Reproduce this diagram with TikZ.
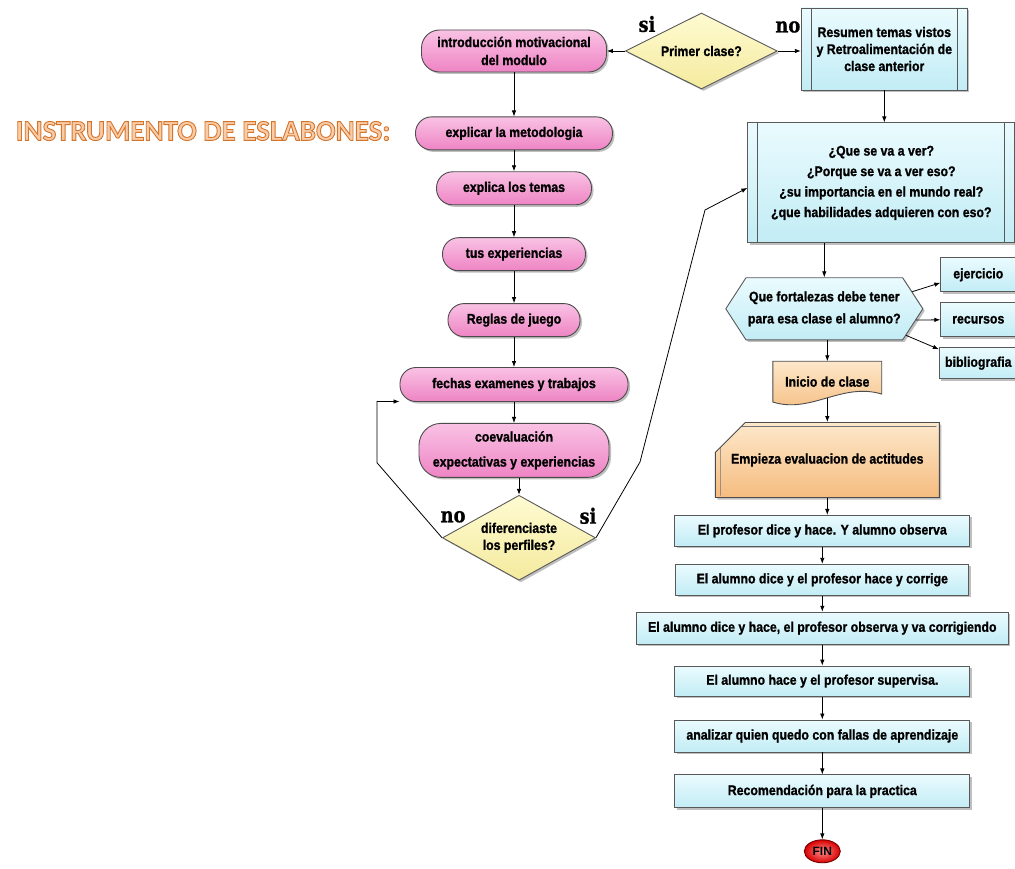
\documentclass[tikz,border=0pt]{standalone}
\usepackage{fontspec}
\usepackage{tikz}
\usetikzlibrary{positioning, shapes.geometric, shapes.symbols, shapes.misc, arrows.meta, shadows, backgrounds}

\newfontfamily\boxfont[FakeStretch=0.88, FakeBold=1.1]{Liberation Sans}
\newfontfamily\finfont{Liberation Sans}
\newfontfamily\slabfont[FakeStretch=0.85, FakeBold=0.8]{DejaVu Serif}
\newfontfamily\titlefont{Carlito}

\definecolor{pinkhi}{HTML}{F9C2E4}
\definecolor{pinklo}{HTML}{EE84C4}
\definecolor{cyanhi}{HTML}{EAFBFE}
\definecolor{cyanlo}{HTML}{C2ECF5}
\definecolor{yelhi}{HTML}{FFFBD2}
\definecolor{yello}{HTML}{F4EA9E}
\definecolor{orahi}{HTML}{FDE8CA}
\definecolor{oralo}{HTML}{F5BC80}
\definecolor{ttlfill}{HTML}{F9CBA6}

% outlined title text (fill and stroke)
\newcommand{\outlined}[1]{{\color{ttlfill}%
    \special{pdf:literal direct 2 Tr 0.9 w 0.83 0.46 0.18 RG}#1%
    \special{pdf:literal direct 0 Tr}}}

\begin{document}
\begin{tikzpicture}[x=1pt, y=1pt,
        >={Latex[length=6pt,width=4.5pt]},
        every node/.style = {align=center,
                             font=\boxfont\bfseries\fontsize{14}{18}\selectfont},
        softshadow/.style = {drop shadow={shadow xshift=2pt, shadow yshift=-2pt,
                             opacity=0.25, fill=black}},
        pinkbox/.style = {shape=rectangle, rounded corners=16pt, draw=black!70,
                          line width=0.9pt, top color=pinkhi, bottom color=pinklo,
                          minimum height=33pt, softshadow},
        cyanbox/.style = {shape=rectangle, draw=black!65, line width=0.9pt,
                          top color=cyanhi, bottom color=cyanlo,
                          minimum height=31pt, inner xsep=2pt, softshadow},
        subproc/.style = {cyanbox, path picture={
            \draw[black!65, line width=0.9pt]
                ([xshift=10pt]path picture bounding box.north west)
                -- ([xshift=10pt]path picture bounding box.south west)
                ([xshift=-10pt]path picture bounding box.north east)
                -- ([xshift=-10pt]path picture bounding box.south east);}},
        yelldiam/.style = {shape=diamond, draw=black!65, line width=0.9pt,
                           top color=yelhi, bottom color=yello, inner sep=0pt,
                           shape aspect=2, softshadow},
        hexbox/.style = {shape=signal, signal to=west and east,
                         signal pointer angle=114, draw=black!65, line width=0.9pt,
                         top color=cyanhi, bottom color=cyanlo, inner sep=0pt,
                         softshadow},
        chambox/.style = {shape=chamfered rectangle,
                          chamfered rectangle corners=north west,
                          chamfered rectangle xsep=23pt, chamfered rectangle ysep=20pt,
                          draw=black!70, line width=0.9pt,
                          top color=orahi, bottom color=oralo, softshadow,
                          path picture={
            \draw[black!55, line width=0.6pt]
                ([xshift=5pt,yshift=2pt]path picture bounding box.south west)
                -- ([xshift=5pt,yshift=-22pt]path picture bounding box.north west)
                -- ([xshift=25pt,yshift=-4pt]path picture bounding box.north west)
                -- ([xshift=-3pt,yshift=-4pt]path picture bounding box.north east);}},
        finbox/.style = {shape=ellipse, draw=red!45!black, line width=0.9pt,
                         inner color=red!45!white, outer color=red!85!black,
                         inner sep=0pt, minimum width=36pt, minimum height=23pt,
                         font=\finfont\bfseries\fontsize{12}{12}\selectfont},
        sino/.style = {font=\slabfont\bfseries\fontsize{21}{21}\selectfont},
        every path/.append style = {line width=0.8pt}]

    \useasboundingbox (0,0) rectangle (1015,-869);
    \begin{scope}[on background layer]
        \fill[white] (0,0) rectangle (1015,-869);
    \end{scope}

    \node[font=\titlefont\bfseries\fontsize{29}{30}\selectfont]
        (titulo) at (203,-131) {\outlined{INSTRUMENTO DE ESLABONES:}};

    % left column
    \node[pinkbox, minimum width=185pt, minimum height=42pt, rounded corners=18pt]
        (intro) at (514,-51) {introducción motivacional\\del modulo};
    \node[pinkbox, below=44pt of intro, minimum width=197pt] (metod) {explicar la metodologia};
    \node[pinkbox, below=21pt of metod, minimum width=155pt] (temas) {explica los temas};
    \node[pinkbox, below=32pt of temas, minimum width=143pt] (exper) {tus experiencias};
    \node[pinkbox, below=32pt of exper, minimum width=132pt] (reglas) {Reglas de juego};
    \node[pinkbox, below=30pt of reglas, minimum width=228pt, minimum height=34pt]
        (fechas) {fechas examenes y trabajos};
    \node[pinkbox, below=21pt of fechas, minimum width=190pt, minimum height=54pt,
          rounded corners=22pt, font=\boxfont\bfseries\fontsize{14}{25}\selectfont]
        (coeval) {coevaluación\\expectativas y experiencias};
    \node[yelldiam, below=17pt of coeval, xshift=5pt, minimum width=153pt,
          minimum height=85pt, font=\boxfont\bfseries\fontsize{14}{17}\selectfont]
        (perfil) {diferenciaste\\los perfiles?};
    \node[sino] (noperfil) at ([xshift=11pt,yshift=21pt]perfil.west) {no};
    \node[sino] (siperfil) at ([xshift=-8pt,yshift=22pt]perfil.east) {si};

    % top decision
    \node[yelldiam, right=18pt of intro, minimum width=152pt, minimum height=76pt]
        (primer) {Primer clase?};
    \node[sino] (siprimer) at ([xshift=22pt,yshift=27pt]primer.west) {si};
    \node[sino] (noprimer) at ([xshift=10pt,yshift=24pt]primer.east) {no};
    \node[subproc, right=23pt of primer, yshift=2pt, minimum width=166pt,
          minimum height=82pt, font=\boxfont\bfseries\fontsize{14}{17}\selectfont]
        (resumen) {Resumen temas vistos\\y Retroalimentación de\\clase anterior};

    % right column
    \node[subproc, below=32pt of resumen, xshift=-3pt, minimum width=267pt,
          minimum height=120pt, font=\boxfont\bfseries\fontsize{14}{20.5}\selectfont]
        (quever) {¿Que se va a ver?\\¿Porque se va a ver eso?\\¿su importancia en el mundo real?\\¿que habilidades adquieren con eso?};
    \node[hexbox, below=34pt of quever, xshift=-57pt, minimum width=197pt,
          minimum height=62pt, font=\boxfont\bfseries\fontsize{14}{22}\selectfont]
        (fortal) {Que fortalezas debe tener\\para esa clase el alumno?};
    \node[cyanbox, right=17pt of fortal, yshift=34pt, minimum width=75pt,
          minimum height=34pt] (ejerc) {ejercicio};
    \node[cyanbox, right=17pt of fortal, yshift=-11pt, minimum width=75pt,
          minimum height=34pt] (recur) {recursos};
    \node[cyanbox, below=10pt of recur, minimum width=78pt] (biblio) {bibliografia};

    \node[below=21pt of fortal, xshift=3pt, minimum width=108pt, minimum height=40pt]
        (inicio) {Inicio de clase};
    \node[chambox, below=20pt of inicio, minimum width=224pt, minimum height=75pt]
        (empieza) {Empieza evaluacion de actitudes};
    \node[cyanbox, below=17pt of empieza, xshift=-5pt, minimum width=295pt]
        (paso1) {El profesor dice y hace. Y alumno observa};
    \node[cyanbox, below=17pt of paso1, minimum width=293pt]
        (paso2) {El alumno dice y el profesor hace y corrige};
    \node[cyanbox, below=16pt of paso2, minimum width=372pt, minimum height=32pt]
        (paso3) {El alumno dice y hace, el profesor observa y va corrigiendo};
    \node[cyanbox, below=21pt of paso3, minimum width=295pt, minimum height=30pt]
        (paso4) {El alumno hace y el profesor supervisa.};
    \node[cyanbox, below=23pt of paso4, minimum width=295pt, minimum height=32pt]
        (analiz) {analizar quien quedo con fallas de aprendizaje};
    \node[cyanbox, below=22pt of analiz, minimum width=295pt, minimum height=33pt]
        (recom) {Recomendación para la practica};
    \node[finbox, below=31pt of recom] (fin) {FIN};

    % document shape behind its text
    \begin{scope}[on background layer]
        \path[draw=black!70, line width=0.9pt, top color=orahi, bottom color=oralo]
            (inicio.north west) -- (inicio.north east)
            -- ([yshift=8pt]inicio.south east)
            .. controls ([xshift=-40pt,yshift=20pt]inicio.south east)
                    and ([xshift=38pt,yshift=-12pt]inicio.south west)
            .. (inicio.south west) -- cycle;
    \end{scope}

    \coordinate (subida1) at (640,-462);
    \coordinate (subida2) at (705,-210);

    \draw [->] (primer.west) -- (intro.east);
    \draw [->] (primer.east) -- (primer.east -| resumen.west);
    \draw [->] (intro) -- (metod);
    \draw [->] (metod) -- (temas);
    \draw [->] (temas) -- (exper);
    \draw [->] (exper) -- (reglas);
    \draw [->] (reglas) -- (fechas);
    \draw [->] (fechas) -- (coeval);
    \draw [->] (perfil.north |- coeval.south) -- (perfil.north);
    \draw [->] (perfil.west) -- ++(-65pt,75pt) |- ([yshift=-17pt]fechas.west);
    \draw [->] (perfil.east) -- (subida1) -- (subida2) -- ([yshift=-5pt]quever.west);

    \draw [->] (resumen.south) -- (resumen.south |- quever.north);
    \draw [->] (fortal.north |- quever.south) -- (fortal.north);
    \draw [->] (fortal.11) -- ([yshift=-8pt]ejerc.west);
    \draw [->] (fortal.-7) -- (recur.west);
    \draw [->] (fortal.-18) -- ([yshift=-2pt]biblio.north west);
    \draw [->] (inicio.north |- fortal.south) -- (inicio.north);
    \draw [->] ([yshift=4pt]inicio.south) -- (empieza.north);
    \draw [->] (empieza.south) -- (empieza.south |- paso1.north);
    \draw [->] (paso1) -- (paso2);
    \draw [->] (paso2) -- (paso3);
    \draw [->] (paso3) -- (paso4);
    \draw [->] (paso4) -- (analiz);
    \draw [->] (analiz) -- (recom);
    \draw [->] (recom) -- (fin);
\end{tikzpicture}
\end{document}
